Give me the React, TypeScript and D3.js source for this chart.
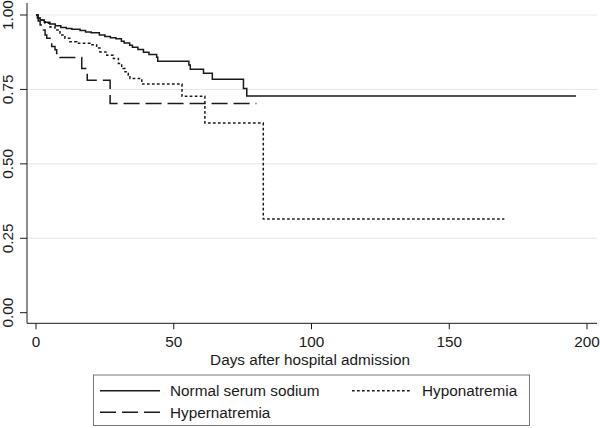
import React from "react";
import * as d3 from "d3";

// Kaplan-Meier estimates
const normalDays = [0, 0.5, 1.5, 3, 5, 7, 9, 11, 13, 16, 18, 20, 23, 25, 27, 29, 31, 32, 34, 35, 37, 39, 41, 43.8, 44.2, 55.5, 56, 60.8, 64, 75.3, 76.5, 196];
const normalSurv = [1, 0.99, 0.983, 0.976, 0.97, 0.964, 0.958, 0.955, 0.952, 0.948, 0.943, 0.94, 0.933, 0.928, 0.924, 0.92, 0.912, 0.906, 0.898, 0.892, 0.884, 0.875, 0.867, 0.858, 0.845, 0.832, 0.818, 0.804, 0.784, 0.753, 0.728, 0.728];

const hypoDays = [0, 1, 2, 3.3, 5.1, 6.9, 8.7, 10.5, 12.3, 14.8, 19.6, 22, 23.2, 25.7, 28.1, 29.9, 31.1, 32.3, 33.5, 34.1, 38.4, 53, 61.3, 82.5, 170];
const hypoSurv = [1, 0.99, 0.983, 0.972, 0.96, 0.95, 0.933, 0.922, 0.91, 0.905, 0.9, 0.889, 0.876, 0.865, 0.854, 0.837, 0.82, 0.809, 0.798, 0.787, 0.768, 0.727, 0.637, 0.315, 0.315];

const hyperDays = [0, 0.8, 1.5, 2.7, 3.3, 3.9, 5.7, 6.9, 7.5, 8.7, 16.6, 18.6, 26.9, 80];
const hyperSurv = [1, 0.98, 0.966, 0.95, 0.933, 0.922, 0.894, 0.883, 0.871, 0.857, 0.82, 0.781, 0.703, 0.703];

const xTicks = [0, 50, 100, 150, 200];
const yTicks = [0, 0.25, 0.5, 0.75, 1];
const gridTicks = [0.25, 0.5, 0.75, 1];

const seriesNames = ["Normal serum sodium", "Hyponatremia", "Hypernatremia"];

const FONT = "'Liberation Sans', Arial, sans-serif";
const FS = 15.3;
const INK = "#1a1a1a";

export default function App() {
  const x = d3.scaleLinear().domain([0, 200]).range([36, 587]);
  const y = d3.scaleLinear().domain([0, 1]).range([312.7, 15]);

  const line = d3
    .line<[number, number]>()
    .x((d) => x(d[0]))
    .y((d) => y(d[1]))
    .curve(d3.curveStepAfter);

  const mk = (days: number[], surv: number[]) =>
    line(days.map((d, i) => [d, surv[i]] as [number, number])) || "";

  const series = [
    { path: mk(normalDays, normalSurv), dash: "none" },
    { path: mk(hypoDays, hypoSurv), dash: "2.7,2.3" },
    { path: mk(hyperDays, hyperSurv), dash: "16,6" },
  ];

  const axisX0 = 27;
  const axisX1 = 597;
  const axisY = 323.3;

  return (
    <div style={{ position: "absolute", left: 0, top: 0 }}>
      <svg width={600} height={428} style={{ display: "block", background: "#fff" }}>
        <rect x={0} y={0} width={600} height={428} fill="#fff" />
        {gridTicks.map((t) => (
          <line key={"g" + t} x1={axisX0} x2={axisX1} y1={y(t)} y2={y(t)} stroke="#e6e6e6" strokeWidth={1} />
        ))}
        {/* axes */}
        <line x1={axisX0} x2={axisX0} y1={3} y2={axisY} stroke={INK} strokeWidth={1} />
        <line x1={axisX0} x2={axisX1} y1={axisY} y2={axisY} stroke={INK} strokeWidth={1} />
        {yTicks.map((t) => (
          <g key={"y" + t}>
            <line x1={20} x2={axisX0} y1={y(t)} y2={y(t)} stroke={INK} strokeWidth={1} />
            <text
              transform={`translate(12.5,${y(t)}) rotate(-90)`}
              textAnchor="middle"
              fontFamily={FONT}
              fontSize={FS}
              fill={INK}
            >
              {d3.format(".2f")(t)}
            </text>
          </g>
        ))}
        {xTicks.map((t) => (
          <g key={"x" + t}>
            <line x1={x(t)} x2={x(t)} y1={axisY} y2={axisY + 6} stroke={INK} strokeWidth={1} />
            <text x={x(t)} y={347} textAnchor="middle" fontFamily={FONT} fontSize={FS} fill={INK}>
              {t}
            </text>
          </g>
        ))}
        <text x={310} y={364.5} textAnchor="middle" fontFamily={FONT} fontSize={FS} fill={INK}>
          Days after hospital admission
        </text>
        {/* curves */}
        {series.map((s, i) => (
          <path
            key={"s" + i}
            d={s.path}
            fill="none"
            stroke={INK}
            strokeWidth={1.5}
            strokeDasharray={s.dash}
          />
        ))}
        {/* legend */}
        <rect x={93.5} y={375} width={436} height={50.5} fill="#fff" stroke="#777" strokeWidth={1} />
        <line x1={100} x2={160} y1={390.7} y2={390.7} stroke={INK} strokeWidth={1.5} />
        <text x={170} y={396} fontFamily={FONT} fontSize={FS} fill={INK}>{seriesNames[0]}</text>
        <line x1={352} x2={412} y1={390.7} y2={390.7} stroke={INK} strokeWidth={1.5} strokeDasharray="2.7,2.3" />
        <text x={422} y={396} fontFamily={FONT} fontSize={FS} fill={INK}>{seriesNames[1]}</text>
        <line x1={100} x2={160} y1={412.3} y2={412.3} stroke={INK} strokeWidth={1.5} strokeDasharray="16,6" />
        <text x={170} y={418} fontFamily={FONT} fontSize={FS} fill={INK}>{seriesNames[2]}</text>
      </svg>
    </div>
  );
}
